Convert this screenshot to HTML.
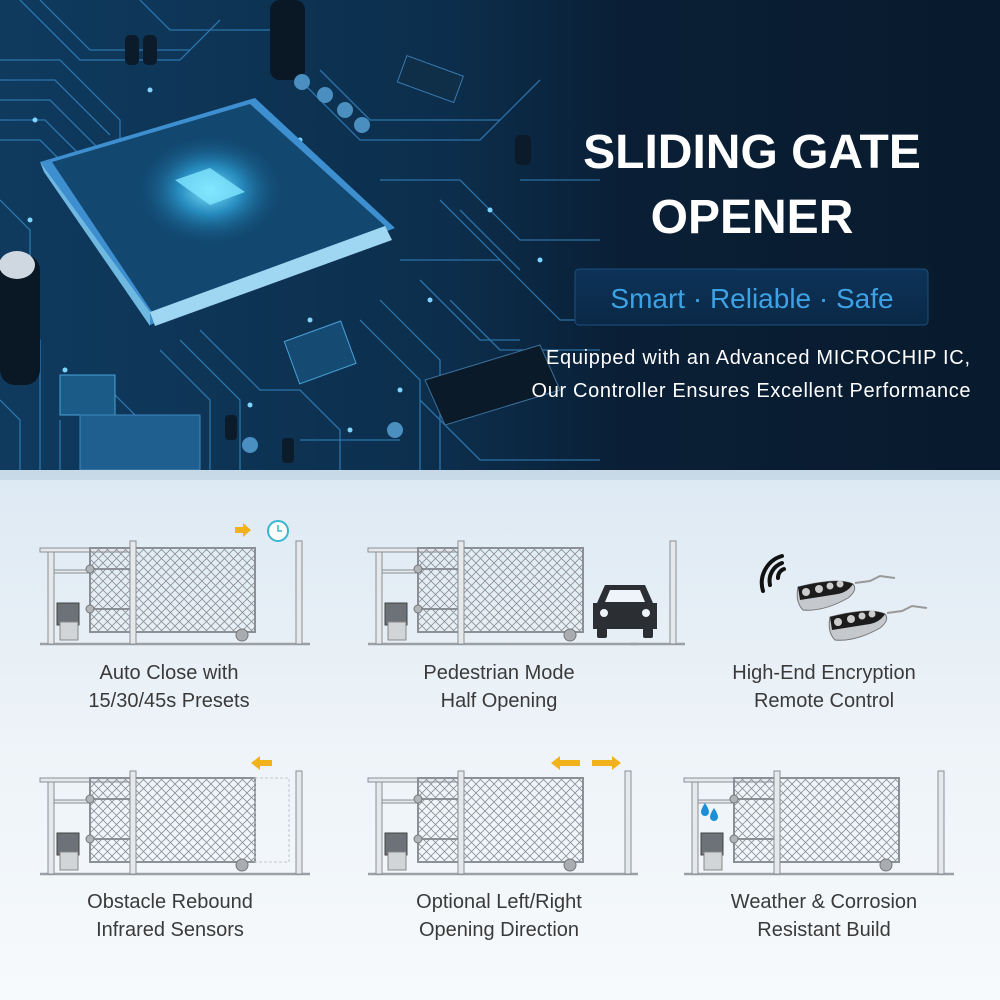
<!DOCTYPE html>
<html><head><meta charset="utf-8"><style>
html,body{margin:0;padding:0;width:1000px;height:1000px;overflow:hidden;background:#eef4f9}
svg{display:block}
</style></head><body>
<svg width="1000" height="1000" viewBox="0 0 1000 1000" xmlns="http://www.w3.org/2000/svg" font-family="'Liberation Sans', sans-serif">
<defs>
<linearGradient id="top" x1="0" y1="0" x2="1" y2="0">
<stop offset="0" stop-color="#0f3a5e"/><stop offset="0.45" stop-color="#0c2e4c"/><stop offset="0.62" stop-color="#0a1f36"/><stop offset="1" stop-color="#081a2d"/>
</linearGradient>
<linearGradient id="bot" x1="0" y1="0" x2="0" y2="1">
<stop offset="0" stop-color="#dde9f3"/><stop offset="0.5" stop-color="#edf3f8"/><stop offset="1" stop-color="#f7fafc"/>
</linearGradient>
<radialGradient id="glow" cx="0.5" cy="0.5" r="0.5">
<stop offset="0" stop-color="#8ff0ff"/><stop offset="0.4" stop-color="#2fa8e0" stop-opacity="0.7"/><stop offset="1" stop-color="#0c3a60" stop-opacity="0"/>
</radialGradient>
<linearGradient id="boxg" x1="0" y1="0" x2="0" y2="1">
<stop offset="0" stop-color="#0d3358"/><stop offset="1" stop-color="#0a2846"/>
</linearGradient>
<pattern id="mesh" width="9" height="9" patternUnits="userSpaceOnUse">
<path d="M0 0L9 9M9 0L0 9" stroke="#8a8f95" stroke-width="0.8"/>
</pattern>
<g id="gate">
<line x1="0" y1="0" x2="270" y2="0" stroke="#9aa0a6" stroke-width="2.5"/>
<rect x="8" y="-92" width="6" height="92" fill="#e6e9ec" stroke="#8a9096"/>
<rect x="0" y="-96" width="90" height="4" fill="#e6e9ec" stroke="#8a9096"/>
<rect x="14" y="-74" width="36" height="3" fill="#e6e9ec" stroke="#8a9096"/>
<rect x="50" y="-96" width="165" height="84" fill="url(#mesh)" stroke="#8a9096" stroke-width="2"/>
<line x1="50" y1="-75" x2="90" y2="-75" stroke="#8a9096" stroke-width="2"/>
<line x1="50" y1="-35" x2="90" y2="-35" stroke="#8a9096" stroke-width="2"/>
<rect x="90" y="-103" width="6" height="103" fill="#e6e9ec" stroke="#8a9096"/>
<circle cx="50" cy="-75" r="4" fill="#b0b5ba" stroke="#777"/>
<circle cx="50" cy="-35" r="4" fill="#b0b5ba" stroke="#777"/>
<circle cx="202" cy="-9" r="6" fill="#a9adb1" stroke="#777"/>
<rect x="17" y="-41" width="22" height="22" fill="#6c7278" stroke="#444"/>
<rect x="20" y="-22" width="18" height="18" fill="#d2d5d8" stroke="#888"/>
</g>
</defs>

<rect x="0" y="0" width="1000" height="470" fill="url(#top)"/>
<g stroke="#3a90d0" stroke-width="1.3" fill="none" opacity="0.7">
<path d="M0 60 L60 60 L120 120 L120 200"/><path d="M0 80 L55 80 L110 135"/><path d="M0 100 L50 100 L100 150"/>
<path d="M0 120 L45 120 L90 165"/><path d="M0 140 L40 140 L80 180"/>
<path d="M20 0 L80 60 L180 60 L220 20"/><path d="M40 0 L90 50 L190 50"/><path d="M140 0 L170 30 L270 30 L300 60"/>
<path d="M300 80 L360 140 L480 140 L540 80"/><path d="M320 70 L370 120 L500 120"/><path d="M380 180 L460 180 L520 240 L600 240"/>
<path d="M400 260 L500 260 L560 320 L600 320"/><path d="M420 280 L480 340 L520 340"/><path d="M200 330 L260 390 L300 390 L340 430 L340 470"/>
<path d="M180 340 L240 400 L240 470"/><path d="M160 350 L210 400 L210 470"/><path d="M0 300 L40 340 L40 470"/>
<path d="M0 200 L30 230 L30 300"/><path d="M420 400 L480 460 L600 460"/><path d="M450 300 L500 350 L600 350"/>
<path d="M100 380 L140 420 L140 470"/><path d="M300 440 L400 440"/><path d="M520 180 L600 180"/>
<path d="M440 200 L500 260"/><path d="M460 210 L520 270"/><path d="M380 300 L440 360 L440 470"/><path d="M360 320 L420 380 L420 470"/>
<path d="M60 420 L60 470"/><path d="M0 400 L20 420 L20 470"/>
</g>
<g fill="#7fd4ff">
<circle cx="150" cy="90" r="2.5"/><circle cx="215" cy="125" r="2.5"/><circle cx="300" cy="140" r="2.5"/><circle cx="30" cy="220" r="2.5"/>
<circle cx="260" cy="280" r="2.5"/><circle cx="430" cy="300" r="2.5"/><circle cx="310" cy="320" r="2.5"/><circle cx="65" cy="370" r="2.5"/>
<circle cx="490" cy="210" r="2.5"/><circle cx="350" cy="430" r="2.5"/><circle cx="250" cy="405" r="2.5"/><circle cx="540" cy="260" r="2.5"/>
<circle cx="35" cy="120" r="2.5"/><circle cx="400" cy="390" r="2.5"/><circle cx="340" cy="330" r="2.5"/>
</g>
<polygon points="40,162 255,98 395,228 150,325" fill="#3d8fd0"/>
<polygon points="52,162 250,104 385,226 152,312" fill="#12476f"/>
<polygon points="150,312 385,226 392,240 155,326" fill="#9fd6f2"/>
<polygon points="40,162 150,312 150,326 44,172" fill="#6fb8e0"/>
<ellipse cx="210" cy="190" rx="80" ry="60" fill="url(#glow)"/>
<polygon points="175,180 210,168 245,192 210,205" fill="#7fe6ff" opacity="0.8"/>
<rect x="290" y="330" width="60" height="45" fill="#154a72" stroke="#4aa0d8" transform="rotate(-20 320 352)"/>
<polygon points="425,380 540,345 560,390 445,425" fill="#0a1a28" stroke="#3a6f9a"/>
<rect x="60" y="375" width="55" height="40" fill="#1b5b88" stroke="#4aa0d8"/>
<rect x="80" y="415" width="120" height="55" fill="#1e5f90" stroke="#3d8ac0"/>
<rect x="0" y="255" width="40" height="130" rx="15" fill="#0a1826"/>
<ellipse cx="17" cy="265" rx="18" ry="14" fill="#cfd8e0"/>
<rect x="270" y="0" width="35" height="80" rx="10" fill="#0a1826"/>
<g fill="#0b1b2a"><rect x="125" y="35" width="14" height="30" rx="5"/><rect x="143" y="35" width="14" height="30" rx="5"/><rect x="515" y="135" width="16" height="30" rx="5"/><rect x="225" y="415" width="12" height="25" rx="4"/><rect x="282" y="438" width="12" height="25" rx="4"/></g>
<g fill="#4a8fc0"><circle cx="302" cy="82" r="8"/><circle cx="325" cy="95" r="8"/><circle cx="345" cy="110" r="8"/><circle cx="362" cy="125" r="8"/><circle cx="250" cy="445" r="8"/><circle cx="395" cy="430" r="8"/></g>
<rect x="400" y="65" width="60" height="28" fill="#0f2e48" stroke="#3a7ab0" transform="rotate(20 430 80)"/>

<text x="752" y="168" fill="#fff" font-size="48" font-weight="bold" text-anchor="middle">SLIDING GATE</text>
<text x="752" y="233" fill="#fff" font-size="48" font-weight="bold" text-anchor="middle">OPENER</text>
<rect x="575" y="269" width="353" height="56" rx="4" fill="url(#boxg)" stroke="#1b4f7e"/>
<text x="752" y="308" fill="#3da2e4" font-size="28" text-anchor="middle">Smart · Reliable · Safe</text>
<text x="758" y="364" fill="#fff" font-size="20" text-anchor="middle" textLength="424">Equipped with an Advanced MICROCHIP IC,</text>
<text x="751" y="397" fill="#fff" font-size="20" text-anchor="middle" textLength="439">Our Controller Ensures Excellent Performance</text>

<rect x="0" y="470" width="1000" height="530" fill="url(#bot)"/>
<rect x="0" y="470" width="1000" height="10" fill="#b9cfe0" opacity="0.6"/>

<use href="#gate" transform="translate(40,644)"/>
<rect x="296" y="541" width="6" height="103" fill="#e6e9ec" stroke="#8a9096"/>
<path d="M235 527 h8 v-4 l8 7 -8 7 v-4 h-8z" fill="#f2b21c"/>
<circle cx="278" cy="531" r="10" fill="#fff" stroke="#3ab7d0" stroke-width="2"/>
<path d="M278 525 v6 h4" stroke="#3ab7d0" stroke-width="1.5" fill="none"/>

<use href="#gate" transform="translate(368,644)"/>
<line x1="630" y1="644" x2="685" y2="644" stroke="#9aa0a6" stroke-width="2.5"/>
<rect x="670" y="541" width="6" height="103" fill="#e6e9ec" stroke="#8a9096"/>
<g fill="#2b2f33">
<path d="M605 585 h40 l8 18 h4 v26 h-64 v-26 h4z"/>
<rect x="597" y="628" width="10" height="10" rx="2"/><rect x="643" y="628" width="10" height="10" rx="2"/>
</g>
<path d="M610 590 h30 l5 12 h-40z" fill="#eef4f9"/>
<circle cx="604" cy="613" r="4" fill="#eef4f9"/><circle cx="646" cy="613" r="4" fill="#eef4f9"/>

<g fill="none" stroke="#111" stroke-width="4" stroke-linecap="round">
<path d="M778 578 a9 9 0 0 1 6 -9"/><path d="M770 585 a19 19 0 0 1 12 -22"/><path d="M763 591 a28 28 0 0 1 19 -35"/>
</g>
<g>
<path d="M798 587 q40 -10 55 -3 q5 6 -5 14 q-25 14 -45 12 q-8 -8 -5 -23z" fill="#c5c9cd" stroke="#777"/>
<path d="M798 587 q40 -10 55 -3 q-5 8 -15 10 l-38 6z" fill="#1c1c1c"/>
<circle cx="806" cy="592" r="4" fill="#ccc"/><circle cx="819" cy="589" r="4" fill="#ccc"/><circle cx="830" cy="586" r="3.5" fill="#ccc"/><circle cx="840" cy="584" r="3.5" fill="#ccc"/>
<path d="M855 583 l15 -2 l10 -5 l15 2" stroke="#999" stroke-width="2" fill="none"/>
<path d="M830 617 q40 -10 55 -3 q5 6 -5 14 q-25 14 -45 12 q-8 -8 -5 -23z" fill="#c5c9cd" stroke="#777"/>
<path d="M830 617 q40 -10 55 -3 q-5 8 -15 10 l-38 6z" fill="#1c1c1c"/>
<circle cx="838" cy="622" r="4" fill="#ccc"/><circle cx="851" cy="619" r="4" fill="#ccc"/><circle cx="862" cy="616" r="3.5" fill="#ccc"/><circle cx="872" cy="614" r="3.5" fill="#ccc"/>
<path d="M887 613 l15 -2 l10 -5 l15 2" stroke="#999" stroke-width="2" fill="none"/>
</g>

<use href="#gate" transform="translate(40,874)"/>
<rect x="255" y="778" width="34" height="84" fill="none" stroke="#c3c7cb" stroke-dasharray="3 2"/>
<rect x="296" y="771" width="6" height="103" fill="#e6e9ec" stroke="#8a9096"/>
<path d="M272 760 h-12 v-4 l-9 7 9 7 v-4 h12z" fill="#f2b21c"/>

<use href="#gate" transform="translate(368,874)"/>
<rect x="625" y="771" width="6" height="103" fill="#e6e9ec" stroke="#8a9096"/>
<path d="M580 760 h-20 v-4 l-9 7 9 7 v-4 h20z" fill="#f2b21c"/>
<path d="M592 760 h20 v-4 l9 7 -9 7 v-4 h-20z" fill="#f2b21c"/>

<use href="#gate" transform="translate(684,874)"/>
<rect x="938" y="771" width="6" height="103" fill="#e6e9ec" stroke="#8a9096"/>
<path d="M705 803 q4 6 4 9 a4 4 0 0 1 -8 0 q0 -3 4 -9z" fill="#1e8fd6"/>
<path d="M714 808 q4 6 4 9 a4 4 0 0 1 -8 0 q0 -3 4 -9z" fill="#1e8fd6"/>

<g fill="#3a3a3a" font-size="20" text-anchor="middle">
<text x="169" y="679">Auto Close with</text><text x="169" y="707">15/30/45s Presets</text>
<text x="499" y="679">Pedestrian Mode</text><text x="499" y="707">Half Opening</text>
<text x="824" y="679">High-End Encryption</text><text x="824" y="707">Remote Control</text>
<text x="170" y="908">Obstacle Rebound</text><text x="170" y="936">Infrared Sensors</text>
<text x="499" y="908">Optional Left/Right</text><text x="499" y="936">Opening Direction</text>
<text x="824" y="908">Weather &amp; Corrosion</text><text x="824" y="936">Resistant Build</text>
</g>
</svg>
</body></html>
